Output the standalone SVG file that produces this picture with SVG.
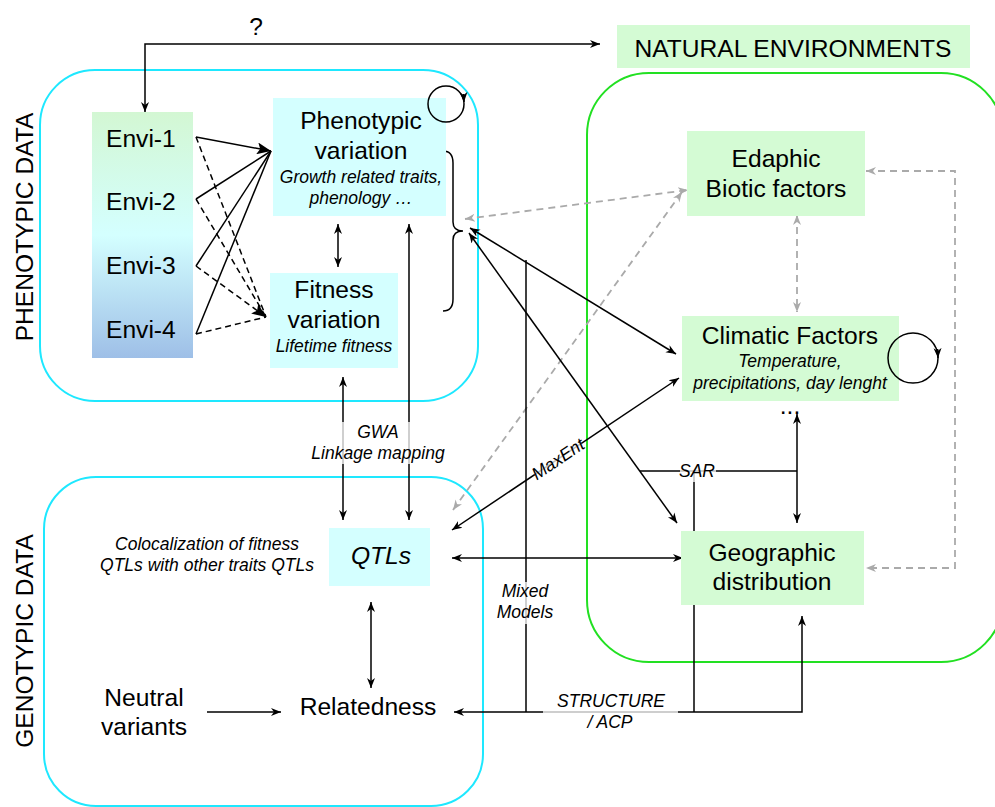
<svg xmlns="http://www.w3.org/2000/svg" width="995" height="807" viewBox="0 0 995 807">
<style>
.t{font-family:"Liberation Sans",Arial,sans-serif;font-size:24.6px;fill:#000}
.c{text-anchor:middle}
.i{font-style:italic;font-size:17.5px}
.ln{stroke:#000;stroke-width:1.5;fill:none}
.gd{stroke:#aaa;stroke-width:1.8;stroke-dasharray:7,5;fill:none}
.dl{stroke:#000;stroke-width:1.5;stroke-dasharray:6,4;fill:none}
.nc{fill:#d4ffff}
.ng{fill:#d4fbd4}
.reg{fill:none;stroke:#1ee8ff;stroke-width:2}
.lb{fill:#fff;fill-opacity:0.75}
</style>
<defs>
<marker id="ab" viewBox="0 0 10 10" refX="10" refY="5" markerWidth="10" markerHeight="10" markerUnits="userSpaceOnUse" orient="auto-start-reverse"><path d="M0,1 L10,5 L0,9 L3,5 z" fill="#000"/></marker>
<marker id="ag" viewBox="0 0 10 10" refX="10" refY="5" markerWidth="10" markerHeight="10" markerUnits="userSpaceOnUse" orient="auto-start-reverse"><path d="M0,1 L10,5 L0,9 L3,5 z" fill="#aaa"/></marker>
<marker id="big" viewBox="0 0 14 12" refX="14" refY="6" markerWidth="14" markerHeight="12" markerUnits="userSpaceOnUse" orient="auto"><path d="M0,0 L14,6 L0,12 L3,6 z" fill="#000"/></marker>
<linearGradient id="envg" x1="0" y1="0" x2="0" y2="1">
<stop offset="0" stop-color="#d3f7d3"/>
<stop offset="0.5" stop-color="#d4ffff"/>
<stop offset="1" stop-color="#9ebfe7"/>
</linearGradient>
</defs>

<g id="regions">
<rect x="40" y="70" width="438" height="331" rx="55" class="reg"/>
<rect x="44" y="477" width="439" height="329" rx="52" class="reg"/>
<rect x="587" y="73" width="416" height="589" rx="62" fill="none" stroke="#22e022" stroke-width="2"/>
<text class="t c" transform="translate(33,227) rotate(-90)">PHENOTYPIC DATA</text>
<text class="t c" transform="translate(33,641) rotate(-90)">GENOTYPIC DATA</text>
</g>

<g id="connectors">
<path class="ln" d="M600,44 L145,44 L145,112" marker-start="url(#ab)" marker-end="url(#ab)"/>
<path class="ln" d="M196,137 L271,151" marker-end="url(#big)"/>
<path class="ln" d="M196,199 L271,151"/>
<path class="ln" d="M196,266 L271,151"/>
<path class="ln" d="M196,334 L271,151"/>
<path class="dl" d="M196,137 L266,317"/>
<path class="dl" d="M196,199 L266,317"/>
<path class="dl" d="M196,266 L266,317" marker-end="url(#big)"/>
<path class="dl" d="M196,334 L266,317"/>
<path class="ln" d="M443,151 Q453,151 453,163 L453,222 Q453,231 463,231 Q453,231 453,240 L453,299 Q453,311 443,311"/>
<path class="ln" d="M338,224 L338,267" marker-start="url(#ab)" marker-end="url(#ab)"/>
<path class="ln" d="M343,377 L343,520" marker-start="url(#ab)" marker-end="url(#ab)"/>
<path class="ln" d="M409,224 L409,520" marker-start="url(#ab)" marker-end="url(#ab)"/>
<path class="ln" d="M371,602 L371,688" marker-start="url(#ab)" marker-end="url(#ab)"/>
<path class="ln" d="M207,712 L281,712" marker-end="url(#ab)"/>
<path class="gd" d="M465,219 L688,190" marker-start="url(#ag)" marker-end="url(#ag)"/>
<path class="gd" d="M453,510 L682,192" marker-start="url(#ag)" marker-end="url(#ag)"/>
<path class="gd" d="M797,215 L797,312" marker-start="url(#ag)" marker-end="url(#ag)"/>
<path class="gd" d="M866,171 L955,171 L955,568 L866,568" marker-start="url(#ag)" marker-end="url(#ag)"/>
<path class="ln" d="M470,228 L676,354" marker-start="url(#ab)" marker-end="url(#ab)"/>
<path class="ln" d="M469,233 L677,523" marker-start="url(#ab)" marker-end="url(#ab)"/>
<path class="ln" d="M452,530 L679,378" marker-start="url(#ab)" marker-end="url(#ab)"/>
<path class="ln" d="M452,558 L683,558" marker-start="url(#ab)" marker-end="url(#ab)"/>
<path class="ln" d="M526,260 L526,712"/>
<path class="ln" d="M802,616 L802,712 L454,712" marker-start="url(#ab)" marker-end="url(#ab)"/>
<path class="ln" d="M640,471 L797,471"/>
<path class="ln" d="M694,471 L694,712"/>
<path class="ln" d="M797,414 L797,523" marker-start="url(#ab)" marker-end="url(#ab)"/>
</g>

<g id="natural-environments">
<rect x="617" y="25" width="353" height="43" class="ng"/>
<text class="t c" x="793" y="57">NATURAL ENVIRONMENTS</text>
</g>
<g id="envi">
<rect x="92" y="112" width="101" height="246" fill="url(#envg)"/>
<text class="t" x="106" y="147">Envi-1</text>
<text class="t" x="106" y="210">Envi-2</text>
<text class="t" x="106" y="274">Envi-3</text>
<text class="t" x="106" y="338">Envi-4</text>
</g>
<g id="phenotypic-variation">
<rect x="273" y="98" width="173" height="118" class="nc"/>
<text class="t c" x="361" y="129">Phenotypic</text>
<text class="t c" x="361" y="159">variation</text>
<text class="t c i" x="361" y="183">Growth related traits,</text>
<text class="t c i" x="361" y="204">phenology …</text>
</g>
<g id="fitness-variation">
<rect x="270" y="273" width="128" height="95" class="nc"/>
<text class="t c" x="334" y="298">Fitness</text>
<text class="t c" x="334" y="328">variation</text>
<text class="t c i" x="334" y="352">Lifetime fitness</text>
</g>
<g id="qtls">
<rect x="329" y="528" width="101" height="58" class="nc"/>
<text class="t c" x="381" y="564" font-style="italic">QTLs</text>
</g>
<g id="colocalization">
<text class="t c i" x="207" y="550">Colocalization of fitness</text>
<text class="t c i" x="207" y="571">QTLs with other traits QTLs</text>
</g>
<g id="neutral-variants">
<text class="t c" x="144" y="706">Neutral</text>
<text class="t c" x="144" y="735">variants</text>
</g>
<g id="relatedness">
<text class="t c" x="368" y="715">Relatedness</text>
</g>
<g id="edaphic">
<rect x="687" y="131" width="178" height="85" class="ng"/>
<text class="t c" x="776" y="167">Edaphic</text>
<text class="t c" x="776" y="197">Biotic factors</text>
</g>
<g id="climatic">
<rect x="682" y="316" width="217" height="85" class="ng"/>
<text class="t c" x="790" y="344">Climatic Factors</text>
<text class="t c i" x="790" y="367">Temperature,</text>
<text class="t c i" x="790" y="389">precipitations, day lenght</text>
</g>
<g id="geographic">
<rect x="681" y="531" width="183" height="74" class="ng"/>
<text class="t c" x="772" y="561">Geographic</text>
<text class="t c" x="772" y="590">distribution</text>
</g>

<g id="self-loops">
<circle class="ln" cx="446" cy="104" r="18"/>
<path class="ln" d="M463.6,94 L464,102" marker-end="url(#ab)"/>
<circle class="ln" cx="913" cy="358" r="25"/>
<path class="ln" d="M937.6,349 L938,358" marker-end="url(#ab)"/>
</g>

<g id="connector-labels">
<text class="t c" x="256" y="35">?</text>
<rect x="312" y="422" width="134" height="42" class="lb"/>
<text class="t c i" x="378" y="438">GWA</text>
<text class="t c i" x="378" y="459">Linkage mapping</text>
<g transform="rotate(-33.8 558 459)">
<rect x="530" y="450" width="56" height="18" class="lb"/>
<text class="t c i" x="558" y="465">MaxEnt</text>
</g>
<rect x="498" y="582" width="56" height="42" class="lb"/>
<text class="t c i" x="525" y="597">Mixed</text>
<text class="t c i" x="525" y="618">Models</text>
<rect x="543" y="693" width="135" height="40" class="lb"/>
<text class="t c i" x="611" y="707">STRUCTURE</text>
<text class="t c i" x="610" y="728">/ ACP</text>
<rect x="680" y="462" width="36" height="20" class="lb"/>
<text class="t c i" x="697" y="477">SAR</text>
<text class="t c" x="790" y="414" font-size="9">...</text>
</g>
</svg>
